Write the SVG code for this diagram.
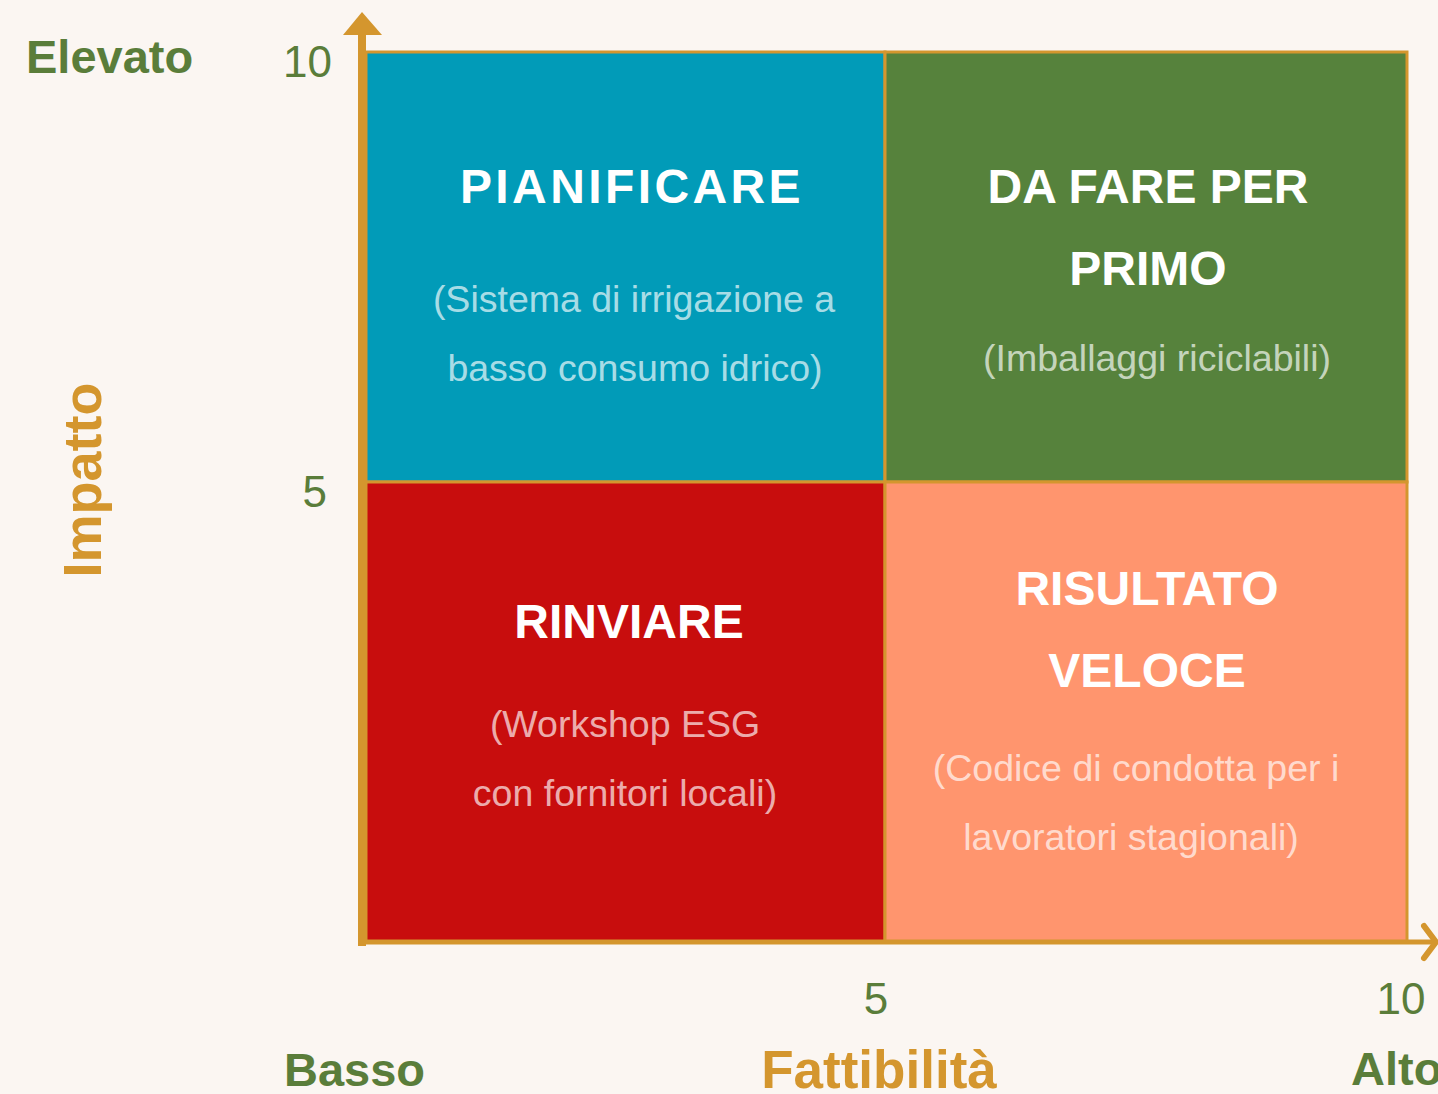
<svg xmlns="http://www.w3.org/2000/svg" width="1438" height="1094" viewBox="0 0 1438 1094">
<style>
.t{font-family:"Liberation Sans",Arial,sans-serif;font-weight:bold;font-size:48px;fill:#fff;text-anchor:middle}
.s{font-family:"Liberation Sans",Arial,sans-serif;font-size:37.5px;fill:#fff;fill-opacity:0.68;text-anchor:middle}
.n{font-family:"Liberation Sans",Arial,sans-serif;font-size:44px;fill:#5a7d3a}
.g{font-family:"Liberation Sans",Arial,sans-serif;font-weight:bold;font-size:47px;fill:#5a7d3a}
.o{font-family:"Liberation Sans",Arial,sans-serif;font-weight:bold;fill:#d4962e}
.q{stroke:#d4962e;stroke-width:3}
</style>
<rect width="1438" height="1094" fill="#fbf6f2"/>
<g id="q-pianificare">
<rect class="q" x="366" y="52" width="519" height="430" fill="#019bb8"/>
<text class="t" x="632" y="203" letter-spacing="3.4">PIANIFICARE</text>
<text class="s" x="634" y="312">(Sistema di irrigazione a</text>
<text class="s" x="635" y="381">basso consumo idrico)</text>
</g>
<g id="q-primo">
<rect class="q" x="885" y="52" width="522" height="430" fill="#56823c"/>
<text class="t" x="1148" y="203">DA FARE PER</text>
<text class="t" x="1148" y="285">PRIMO</text>
<text class="s" x="1157" y="371">(Imballaggi riciclabili)</text>
</g>
<g id="q-rinviare">
<rect class="q" x="366" y="482" width="519" height="460" fill="#c80d0d"/>
<text class="t" x="629" y="638">RINVIARE</text>
<text class="s" x="625" y="737">(Workshop ESG</text>
<text class="s" x="625" y="806">con fornitori locali)</text>
</g>
<g id="q-veloce">
<rect class="q" x="885" y="482" width="522" height="460" fill="#ff956e"/>
<text class="t" x="1147" y="605">RISULTATO</text>
<text class="t" x="1147" y="687">VELOCE</text>
<text class="s" x="1136" y="781">(Codice di condotta per i</text>
<text class="s" x="1131" y="850">lavoratori stagionali)</text>
</g>
<g id="axes">
<line x1="362" y1="946" x2="362" y2="34" stroke="#d4962e" stroke-width="8"/>
<polygon points="343,35 382,35 362,12" fill="#d4962e"/>
<line x1="358" y1="942" x2="1434" y2="942" stroke="#d4962e" stroke-width="5"/>
<polyline points="1424,926 1436,942 1424,958" fill="none" stroke="#d4962e" stroke-width="6" stroke-linecap="round" stroke-linejoin="round"/>
</g>
<g id="labels">
<text class="g" x="26" y="73">Elevato</text>
<text class="n" x="332" y="77" text-anchor="end">10</text>
<text class="n" x="327" y="507" text-anchor="end">5</text>
<text class="n" x="876" y="1014" text-anchor="middle">5</text>
<text class="n" x="1401" y="1014" text-anchor="middle">10</text>
<text class="g" x="284" y="1086">Basso</text>
<text class="o" x="879" y="1088" font-size="53" text-anchor="middle">Fattibilità</text>
<text class="g" x="1351" y="1085">Alto</text>
<text class="o" font-size="54" text-anchor="middle" transform="translate(101,480) rotate(-90)">Impatto</text>
</g>
</svg>
